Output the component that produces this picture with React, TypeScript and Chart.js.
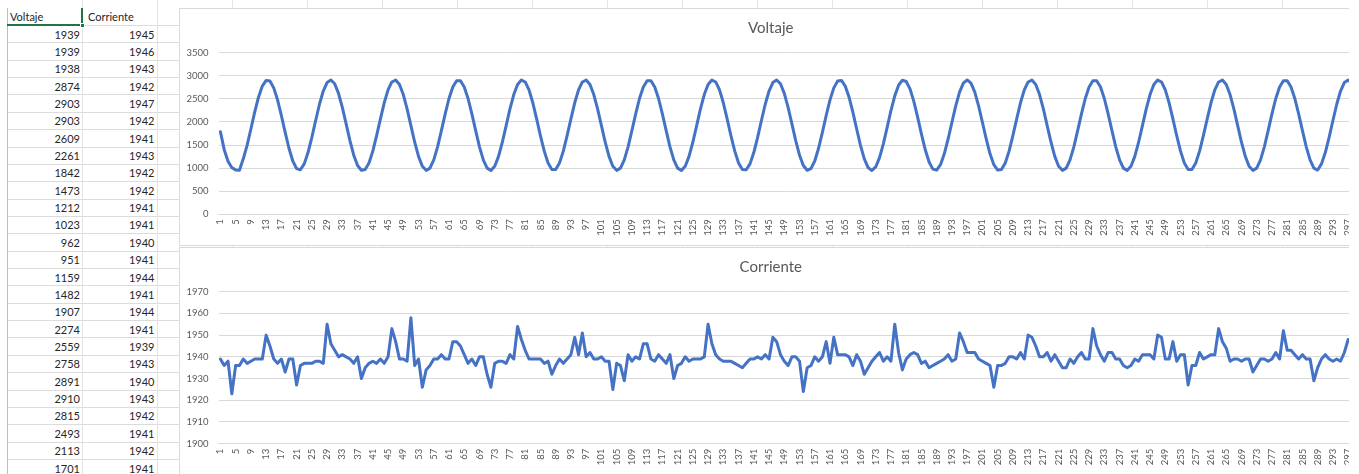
import React, { useEffect, useRef } from 'react';
import { Chart, registerables } from 'chart.js';

Chart.register(...registerables);

const FONT = 'Lato, "Open Sans", sans-serif';

// Spreadsheet cells
const headerVoltaje = 'Voltaje';
const headerCorriente = 'Corriente';
const tableVoltaje = [1939, 1939, 1938, 2874, 2903, 2903, 2609, 2261, 1842, 1473, 1212, 1023, 962, 951, 1159, 1482, 1907, 2274, 2559, 2758, 2891, 2910, 2815, 2493, 2113, 1701];
const tableCorriente = [1945, 1946, 1943, 1942, 1947, 1942, 1941, 1943, 1942, 1942, 1941, 1941, 1940, 1941, 1944, 1941, 1944, 1941, 1939, 1943, 1940, 1943, 1942, 1941, 1942, 1941];

// Chart series
const voltaje = [
  1790, 1400, 1150, 1010, 962, 955, 1202, 1494, 1847, 2214,
  2537, 2777, 2899, 2885, 2738, 2478, 2140, 1774, 1430, 1155,
  989, 964, 1092, 1338, 1666, 2031, 2383, 2670, 2854, 2909,
  2827, 2620, 2317, 1958, 1596, 1281, 1056, 954, 971, 1112,
  1368, 1702, 2068, 2415, 2694, 2866, 2907, 2812, 2593, 2283,
  1921, 1561, 1254, 1040, 952, 1000, 1178, 1461, 1811, 2176,
  2508, 2758, 2893, 2893, 2758, 2508, 2176, 1811, 1461, 1178,
  1000, 951, 1040, 1254, 1561, 1921, 2283, 2593, 2812, 2907,
  2866, 2694, 2415, 2068, 1702, 1368, 1112, 971, 971, 1112,
  1368, 1702, 2068, 2415, 2694, 2866, 2907, 2812, 2593, 2283,
  1921, 1561, 1254, 1040, 952, 1000, 1178, 1461, 1811, 2176,
  2508, 2758, 2893, 2893, 2758, 2508, 2176, 1811, 1461, 1178,
  1000, 951, 1040, 1254, 1561, 1921, 2283, 2593, 2812, 2907,
  2866, 2694, 2415, 2068, 1702, 1368, 1112, 971, 964, 1092,
  1338, 1666, 2031, 2383, 2670, 2854, 2909, 2827, 2620, 2317,
  1958, 1596, 1281, 1056, 954, 989, 1155, 1430, 1774, 2140,
  2478, 2738, 2885, 2899, 2777, 2537, 2214, 1847, 1494, 1202,
  1012, 950, 1025, 1227, 1527, 1884, 2248, 2565, 2795, 2904,
  2876, 2716, 2447, 2104, 1738, 1398, 1133, 979, 959, 1074,
  1309, 1631, 1994, 2350, 2645, 2842, 2910, 2842, 2645, 2350,
  1994, 1631, 1309, 1074, 959, 971, 1112, 1368, 1702, 2068,
  2415, 2694, 2866, 2907, 2812, 2593, 2283, 1921, 1561, 1254,
  1040, 952, 1000, 1178, 1461, 1811, 2176, 2508, 2758, 2893,
  2893, 2758, 2508, 2176, 1811, 1461, 1178, 1000, 951, 1040,
  1254, 1561, 1921, 2283, 2593, 2812, 2907, 2866, 2694, 2415,
  2068, 1702, 1368, 1112, 971, 971, 1112, 1368, 1702, 2068,
  2415, 2694, 2866, 2907, 2812, 2593, 2283, 1921, 1561, 1254,
  1040, 952, 1000, 1178, 1461, 1811, 2176, 2508, 2758, 2893,
  2893, 2758, 2508, 2176, 1811, 1461, 1178, 1000, 958, 1092,
  1338, 1666, 2031, 2383, 2670, 2854, 2909, 2827, 2620, 2317,
];

const corriente = [
  1939, 1936, 1938, 1923, 1936, 1936, 1939, 1937, 1938, 1939,
  1939, 1939, 1950, 1945, 1939, 1937, 1939, 1933, 1939, 1939,
  1927, 1936, 1937, 1937, 1937, 1938, 1938, 1937, 1955, 1946,
  1943, 1940, 1941, 1940, 1939, 1937, 1940, 1930, 1935, 1937,
  1938, 1937, 1939, 1937, 1940, 1953, 1947, 1939, 1939, 1938,
  1958, 1936, 1939, 1926, 1934, 1936, 1939, 1939, 1941, 1939,
  1939, 1947, 1947, 1945, 1941, 1937, 1939, 1936, 1940, 1940,
  1932, 1926, 1937, 1938, 1938, 1937, 1941, 1939, 1954, 1948,
  1943, 1939, 1939, 1939, 1939, 1937, 1938, 1932, 1936, 1939,
  1937, 1939, 1941, 1949, 1941, 1951, 1940, 1942, 1939, 1939,
  1940, 1938, 1938, 1925, 1937, 1936, 1929, 1941, 1938, 1940,
  1939, 1946, 1946, 1939, 1938, 1941, 1939, 1937, 1941, 1930,
  1936, 1937, 1940, 1938, 1939, 1939, 1939, 1940, 1955, 1946,
  1941, 1939, 1938, 1938, 1938, 1937, 1936, 1935, 1937, 1939,
  1939, 1940, 1939, 1941, 1939, 1949, 1947, 1941, 1938, 1936,
  1940, 1940, 1938, 1924, 1935, 1936, 1940, 1938, 1940, 1947,
  1937, 1949, 1941, 1941, 1941, 1940, 1936, 1941, 1938, 1932,
  1935, 1938, 1940, 1942, 1938, 1940, 1938, 1955, 1942, 1934,
  1939, 1941, 1942, 1941, 1937, 1938, 1935, 1936, 1937, 1938,
  1939, 1941, 1938, 1939, 1951, 1947, 1942, 1942, 1942, 1939,
  1938, 1937, 1936, 1926, 1936, 1936, 1937, 1940, 1940, 1939,
  1942, 1939, 1950, 1949, 1945, 1940, 1940, 1942, 1938, 1941,
  1938, 1935, 1935, 1939, 1937, 1940, 1942, 1939, 1939, 1953,
  1945, 1941, 1938, 1942, 1942, 1939, 1939, 1936, 1935, 1936,
  1939, 1938, 1941, 1941, 1941, 1939, 1950, 1949, 1939, 1939,
  1947, 1938, 1941, 1941, 1927, 1936, 1936, 1942, 1939, 1940,
  1941, 1941, 1953, 1947, 1944, 1938, 1939, 1939, 1938, 1939,
  1939, 1933, 1936, 1939, 1939, 1938, 1939, 1942, 1939, 1952,
  1943, 1943, 1941, 1939, 1941, 1939, 1939, 1929, 1935, 1939,
  1941, 1939, 1938, 1939, 1938, 1942, 1948, 1946, 1944, 1942,
];

const categories = voltaje.map((_, i) => String(i + 1));
const labelEvery = 4;

const voltajeTitle = 'Voltaje';
const corrienteTitle = 'Corriente';
const voltajeAxis = { min: 0, max: 3500, step: 500 };
const corrienteAxis = { min: 1900, max: 1970, step: 10 };

const GRID = '#d9d9d9';
const TEXT = '#595959';
const LINE = '#4472C4';

function makeChart(canvas: HTMLCanvasElement, title: string, data: number[], axis: { min: number; max: number; step: number }, xHeight: number) {
  return new Chart(canvas, {
    type: 'line',
    data: {
      labels: categories,
      datasets: [
        {
          data,
          borderColor: LINE,
          backgroundColor: LINE,
          borderWidth: 3,
          pointRadius: 0,
          pointHoverRadius: 0,
          tension: 0,
          fill: false,
          borderJoinStyle: 'round',
          borderCapStyle: 'round',
        },
      ],
    },
    options: {
      animation: false,
      responsive: false,
      maintainAspectRatio: false,
      events: [],
      layout: { padding: { left: 0, right: 24.5, top: 0, bottom: 0 } },
      plugins: {
        legend: { display: false },
        tooltip: { enabled: false },
        title: {
          display: true,
          text: title,
          color: TEXT,
          font: { family: FONT, size: 15, weight: 'normal' },
          padding: { top: 10.3, bottom: 15.4 },
        },
      },
      scales: {
        x: {
          type: 'category',
          offset: true,
          grid: { display: false, drawTicks: false },
          border: { display: true, color: GRID, width: 1 },
          ticks: {
            autoSkip: false,
            minRotation: 90,
            maxRotation: 90,
            padding: 5,
            color: TEXT,
            font: { family: FONT, size: 9.5 },
            callback: (_v: any, i: number) => (i % labelEvery === 0 ? categories[i] : ''),
          },
          afterFit: (s: any) => {
            s.height = xHeight;
          },
        },
        y: {
          min: axis.min,
          max: axis.max,
          ticks: {
            stepSize: axis.step,
            padding: 10,
            color: TEXT,
            font: { family: FONT, size: 9.5 },
            callback: (v: any) => String(v),
          },
          grid: { color: GRID, lineWidth: 1, drawTicks: false },
          border: { display: false },
          afterFit: (s: any) => {
            s.width = 38.5;
          },
        },
      },
    },
  } as any);
}

const ROW_H = 17.36;
const FIRST_ROW_TOP = 25;

export default function App() {
  const topRef = useRef<HTMLCanvasElement>(null);
  const botRef = useRef<HTMLCanvasElement>(null);

  useEffect(() => {
    const c1 = makeChart(topRef.current!, voltajeTitle, voltaje, voltajeAxis, 30.7);
    const c2 = makeChart(botRef.current!, corrienteTitle, corriente, corrienteAxis, 40.3);
    return () => {
      c1.destroy();
      c2.destroy();
    };
  }, []);

  const rowLines: number[] = [];
  for (let k = 0; k <= 27; k++) rowLines.push(Math.round(FIRST_ROW_TOP + k * ROW_H));
  const colLines: number[] = [82, 157];
  for (let x = 232; x < 1349; x += 75) colLines.push(x);

  const cellText: React.CSSProperties = {
    position: 'absolute',
    height: ROW_H,
    lineHeight: ROW_H + 'px',
    fontFamily: FONT,
    fontSize: 11,
    color: '#262626',
    whiteSpace: 'nowrap',
  };

  return (
    <div style={{ position: 'fixed', left: 0, top: 0, width: 1349, height: 474, overflow: 'hidden', background: '#fff' }}>
      {/* spreadsheet grid */}
      {rowLines.map((y, i) => (
        <div key={'r' + i} style={{ position: 'absolute', left: 7, top: y, width: 1342, height: 1, background: '#dcdcdc' }} />
      ))}
      {colLines.map((x, i) => (
        <div key={'c' + i} style={{ position: 'absolute', left: x, top: 0, width: 1, height: 474, background: '#e4e4e4' }} />
      ))}
      <div style={{ position: 'absolute', left: 7, top: 8, width: 1, height: 466, background: '#bdbdbd' }} />
      {/* selected cell A1 */}
      <div style={{ position: 'absolute', left: 7, top: 24, width: 76, height: 2, background: '#217346' }} />
      <div style={{ position: 'absolute', left: 81, top: 8, width: 2, height: 17, background: '#217346' }} />
      <div style={{ position: 'absolute', left: 80, top: 23, width: 5, height: 5, background: '#217346', border: '1px solid #fff', boxSizing: 'border-box' }} />
      {/* headers */}
      <div style={{ ...cellText, left: 10, top: 7.5, height: 17, lineHeight: '17px' }}>{headerVoltaje}</div>
      <div style={{ ...cellText, left: 88, top: 7.5, height: 17, lineHeight: '17px' }}>{headerCorriente}</div>
      {tableVoltaje.map((v, i) => (
        <div key={'a' + i} style={{ ...cellText, left: 8, width: 72, textAlign: 'right', top: FIRST_ROW_TOP + i * ROW_H + 0.5 }}>{v}</div>
      ))}
      {tableCorriente.map((v, i) => (
        <div key={'b' + i} style={{ ...cellText, left: 83, width: 71.5, textAlign: 'right', top: FIRST_ROW_TOP + i * ROW_H + 0.5 }}>{v}</div>
      ))}
      {/* charts */}
      <div style={{ position: 'absolute', left: 179, top: 8, width: 1208, height: 238, border: '1px solid #d9d9d9', boxSizing: 'border-box', background: '#fff' }}>
        <canvas ref={topRef} width={1206} height={236} style={{ display: 'block', width: 1206, height: 236 }} />
      </div>
      <div style={{ position: 'absolute', left: 179, top: 247, width: 1208, height: 240, border: '1px solid #d9d9d9', boxSizing: 'border-box', background: '#fff' }}>
        <canvas ref={botRef} width={1206} height={236} style={{ display: 'block', width: 1206, height: 236 }} />
      </div>
    </div>
  );
}
